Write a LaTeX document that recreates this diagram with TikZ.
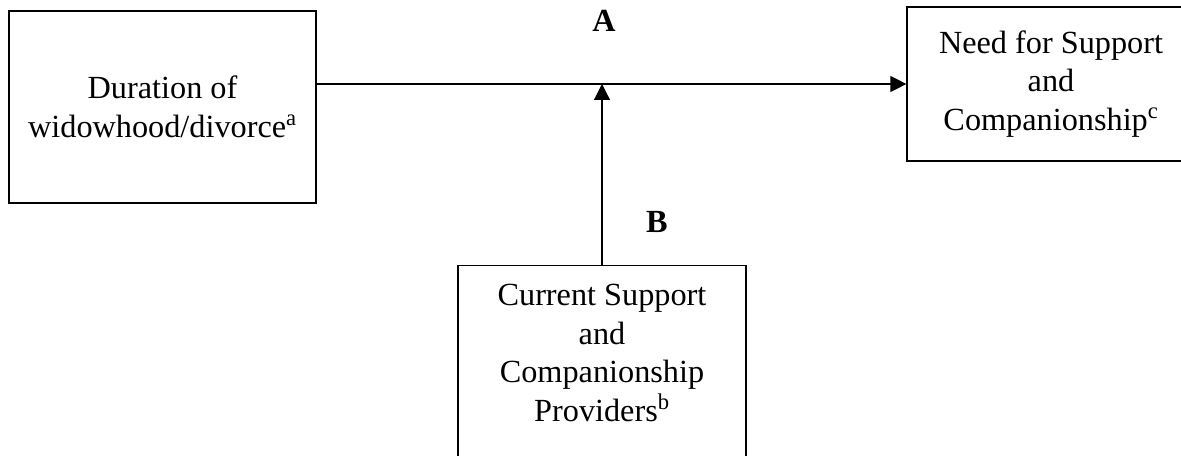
\documentclass[tikz,border=0pt]{standalone}
\usepackage{fontspec}
\setmainfont{Liberation Serif}
\usetikzlibrary{arrows.meta}

\begin{document}
\begin{tikzpicture}[x=0.75pt,y=-0.75pt]
	% coordinates are read off the figure, so one unit is one pixel
	\tikzset{box/.style={draw,line width=0.9pt,align=center,inner sep=0pt,font=\fontsize{24.2}{29}\selectfont},
		link/.style={line width=0.9pt,-{Triangle[length=12pt,width=12pt]}},
		tag/.style={font=\fontsize{24.2}{29}\selectfont\bfseries},
	}
	\useasboundingbox (0,0) rectangle (1181,456);
	\clip (0,0) rectangle (1181,456);
	\node[box,minimum width=230.25pt,minimum height=144pt] (dur) at (162.5,107) {Duration of\\widowhood/divorce\textsuperscript{a}};
	\node[box,minimum width=216pt,minimum height=115.5pt] (need) at (1051,84) {Need for Support\\and\\Companionship\textsuperscript{c}};
	% this box runs off the bottom of the page, so it is given a deep text box
	\node[box,minimum width=216pt,anchor=north,inner ysep=14pt,text depth=160pt] (prov) at (602,265) {Current Support\\and\\Companionship\\Providers\textsuperscript{b}};
	\node[tag] (a) at (604,21) {A};
	\node[tag] (b) at (657,222) {B};
	\draw[link] (dur.east |- need.west) -- (need.west);
	\draw[link] (prov.north) -- (prov.north |- need.west);
\end{tikzpicture}
\end{document}
